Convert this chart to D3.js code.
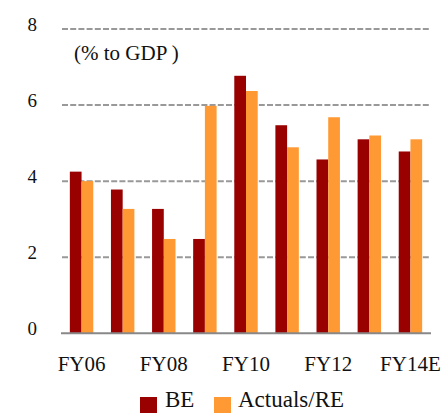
<!DOCTYPE html>
<html>
<head>
<meta charset="utf-8">
<script src="https://cdn.jsdelivr.net/npm/d3@7/dist/d3.min.js"></script>
<style>
  html, body { margin: 0; padding: 0; background: #fff; }
  svg { display: block; }
  text { font-family: "Liberation Serif", "DejaVu Serif", serif; fill: #111; }
</style>
</head>
<body>
<svg id="chart" width="445" height="413"></svg>
<script>
// Fiscal deficit, % to GDP: budget estimate vs actuals / revised estimate
const categories = ["FY06", "FY07", "FY08", "FY09", "FY10", "FY11", "FY12", "FY13", "FY14E"];
const beValues = [4.25, 3.78, 3.27, 2.48, 6.77, 5.47, 4.57, 5.1, 4.78];
const actualValues = [4.0, 3.27, 2.48, 5.98, 6.37, 4.89, 5.68, 5.2, 5.1];
const seriesNames = ["BE", "Actuals/RE"];
const seriesColors = ["#990000", "#ff9933"];
const yTicks = [0, 2, 4, 6, 8];
const xTickLabels = ["FY06", "FY08", "FY10", "FY12", "FY14E"];

const rows = categories.map((c, i) => ({ cat: c, vals: [beValues[i], actualValues[i]] }));

const svg = d3.select("#chart");

const x = d3.scaleBand().domain(categories).range([61, 431])
  .paddingInner(0.43).paddingOuter(0.215);
const xs = d3.scaleBand().domain([0, 1]).range([0, x.bandwidth()]);
const y = d3.scaleLinear().domain([0, 8]).range([333.3, 29]);

// dashed gridlines
svg.append("g")
  .selectAll("line")
  .data(yTicks.filter(d => d > 0))
  .join("line")
  .attr("x1", 62).attr("x2", 429)
  .attr("y1", d => y(d)).attr("y2", d => y(d))
  .attr("stroke", "#999")
  .attr("stroke-width", 2)
  .attr("stroke-dasharray", "6,2.2");

// y tick labels
svg.append("g")
  .selectAll("text")
  .data(yTicks)
  .join("text")
  .attr("x", 37)
  .attr("y", d => y(d) + 2)
  .attr("text-anchor", "end")
  .style("font-size", "19px")
  .text(d => d);

// bars
const groups = svg.append("g")
  .selectAll("g")
  .data(rows)
  .join("g")
  .attr("transform", d => `translate(${x(d.cat)},0)`);

groups.selectAll("rect")
  .data(d => d.vals.map((v, k) => ({ v, k })))
  .join("rect")
  .attr("x", d => xs(d.k))
  .attr("width", xs.bandwidth())
  .attr("y", d => y(d.v))
  .attr("height", d => y(0) - y(d.v))
  .attr("fill", d => seriesColors[d.k]);

// baseline
svg.append("line")
  .attr("x1", 61).attr("x2", 431)
  .attr("y1", y(0)).attr("y2", y(0))
  .attr("stroke", "#888")
  .attr("stroke-width", 2);

// x tick labels (every other year)
svg.append("g")
  .selectAll("text")
  .data(xTickLabels)
  .join("text")
  .attr("x", d => x(d) + x.bandwidth() / 2)
  .attr("y", 370.5)
  .attr("text-anchor", "middle")
  .style("font-size", "21px")
  .text(d => d);

// unit note
svg.append("text")
  .attr("x", 74)
  .attr("y", 60)
  .style("font-size", "21px")
  .text("(% to GDP )");

// legend
const legendX = [140, 214];
const legend = svg.append("g")
  .selectAll("g")
  .data(seriesNames)
  .join("g")
  .attr("transform", (d, i) => `translate(${legendX[i]},397)`);
legend.append("rect")
  .attr("width", 17).attr("height", 16)
  .attr("fill", (d, i) => seriesColors[i]);
legend.append("text")
  .attr("x", (d, i) => i === 0 ? 25 : 24)
  .attr("y", 10)
  .style("font-size", "23px")
  .text(d => d);
</script>
</body>
</html>
